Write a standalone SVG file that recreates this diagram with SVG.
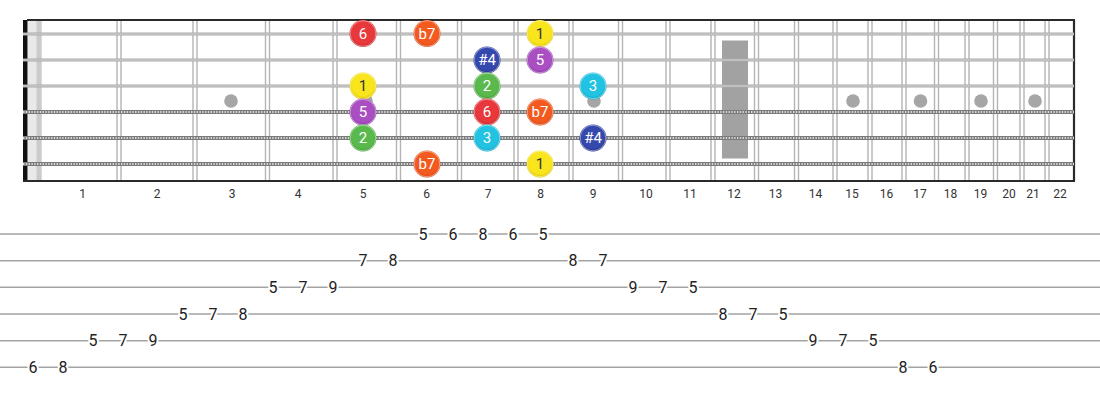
<svg xmlns="http://www.w3.org/2000/svg" width="1100" height="400" viewBox="0 0 1100 400">
<defs>
<style>
.fret{stroke:#b4b4b4;stroke-width:1.4;fill:none}
.plain{stroke:#a9a9a9;stroke-width:3}
.plainhi{stroke:#d6d6d6;stroke-width:1}
.wound{stroke:#7a7a7a;stroke-width:4}
.woundhi{stroke:#d8d8d8;stroke-width:2;stroke-dasharray:1.4 1.4}
.inlay{fill:#a6a6a6}
.fn{font-family:Roboto,"Liberation Sans",sans-serif;font-size:12px;fill:#333;text-anchor:middle}
.tabl{stroke:#a3a3a3;stroke-width:1.5}
.tn{font-family:Roboto,"Liberation Sans",sans-serif;font-size:16px;fill:#222;text-anchor:middle;stroke:#fff;stroke-width:4;paint-order:stroke;stroke-linejoin:round}
.nl{font-family:Roboto,"Liberation Sans",sans-serif;font-size:15px;fill:#fff;text-anchor:middle}
.dk{fill:#333}
.ring{fill:none;stroke:#fff;stroke-opacity:0.45;stroke-width:1}
</style>
<radialGradient id="gRed" cx="50%" cy="45%" r="55%"><stop offset="0.75" stop-color="#e8383b"/><stop offset="1" stop-color="#c62828"/></radialGradient>
<radialGradient id="gOra" cx="50%" cy="45%" r="55%"><stop offset="0.75" stop-color="#f25a1f"/><stop offset="1" stop-color="#d84315"/></radialGradient>
<radialGradient id="gYel" cx="50%" cy="45%" r="55%"><stop offset="0.75" stop-color="#f8e51c"/><stop offset="1" stop-color="#e0c400"/></radialGradient>
<radialGradient id="gBlu" cx="50%" cy="45%" r="55%"><stop offset="0.75" stop-color="#3548ad"/><stop offset="1" stop-color="#22338a"/></radialGradient>
<radialGradient id="gPur" cx="50%" cy="45%" r="55%"><stop offset="0.75" stop-color="#a94fc2"/><stop offset="1" stop-color="#8a35a6"/></radialGradient>
<radialGradient id="gGrn" cx="50%" cy="45%" r="55%"><stop offset="0.75" stop-color="#5ab94d"/><stop offset="1" stop-color="#3f9a34"/></radialGradient>
<radialGradient id="gCya" cx="50%" cy="45%" r="55%"><stop offset="0.75" stop-color="#22c3e2"/><stop offset="1" stop-color="#0fa3c4"/></radialGradient>
</defs>
<rect width="1100" height="400" fill="#fff"/>

<g id="fretboard">
<rect x="28" y="20" width="14" height="161" fill="#e9e9e9"/>
<rect x="36.5" y="20" width="5" height="161" fill="#cbcbcb"/>
<rect x="722" y="40.5" width="26" height="118" fill="#a2a2a2"/>
<g id="inlays">
<circle class="inlay" cx="231" cy="101" r="6.8"/>
<circle class="inlay" cx="366" cy="101" r="6.8"/>
<circle class="inlay" cx="594" cy="101" r="6.8"/>
<circle class="inlay" cx="853" cy="101" r="6.8"/>
<circle class="inlay" cx="920.5" cy="101" r="6.8"/>
<circle class="inlay" cx="981" cy="101" r="6.8"/>
<circle class="inlay" cx="1035" cy="101" r="6.8"/>
</g>
<g id="frets">
<path class="fret" d="M117,20V181M121,20V181M193,20V181M197,20V181M265.5,20V181M269.5,20V181M333,20V181M337,20V181M396.5,20V181M400.5,20V181M457.5,20V181M461.5,20V181M514,20V181M518,20V181M569,20V181M573,20V181M618.5,20V181M622.5,20V181M666,20V181M670,20V181M711,20V181M715,20V181M754.5,20V181M758.5,20V181M794.5,20V181M798.5,20V181M833,20V181M837,20V181M868,20V181M872,20V181M902,20V181M906,20V181M934.5,20V181M938.5,20V181M965,20V181M969,20V181M993.5,20V181M997.5,20V181M1020,20V181M1024,20V181M1045,20V181M1049,20V181"/>
</g>
<rect x="23" y="20" width="4.5" height="161" fill="#111"/>
<path d="M27,20H1075M23,181H1075" stroke="#2a2a2a" stroke-width="2"/>
<path d="M1074,20V181" stroke="#2a2a2a" stroke-width="2.2"/>
<g id="strings">
<path class="plain" d="M23,34H1074M23,60H1074M23,86H1074"/>
<path class="plainhi" d="M23,34H1074M23,60H1074M23,86H1074"/>
<path class="wound" d="M23,112H1074M23,138H1074M23,164H1074"/>
<path class="woundhi" d="M23,112H1074M23,138H1074M23,164H1074"/>
</g>
</g>

<g id="fret-numbers">
<text class="fn" x="82.5" y="198">1</text>
<text class="fn" x="157" y="198">2</text>
<text class="fn" x="232" y="198">3</text>
<text class="fn" x="298" y="198">4</text>
<text class="fn" x="363" y="198">5</text>
<text class="fn" x="426.5" y="198">6</text>
<text class="fn" x="488" y="198">7</text>
<text class="fn" x="540.5" y="198">8</text>
<text class="fn" x="593" y="198">9</text>
<text class="fn" x="646" y="198">10</text>
<text class="fn" x="690" y="198">11</text>
<text class="fn" x="734" y="198">12</text>
<text class="fn" x="775.5" y="198">13</text>
<text class="fn" x="815.5" y="198">14</text>
<text class="fn" x="852" y="198">15</text>
<text class="fn" x="886.5" y="198">16</text>
<text class="fn" x="920" y="198">17</text>
<text class="fn" x="950.5" y="198">18</text>
<text class="fn" x="980.5" y="198">19</text>
<text class="fn" x="1009" y="198">20</text>
<text class="fn" x="1033" y="198">21</text>
<text class="fn" x="1060" y="198">22</text>
</g>

<g id="notes">
<g id="n-s1-f5"><circle cx="363" cy="33.5" r="13.5" fill="url(#gRed)"/><circle class="ring" cx="363" cy="33.5" r="12.8"/><text class="nl" x="363" y="38.8">6</text></g>
<g id="n-s1-f6"><circle cx="427" cy="33.5" r="13.5" fill="url(#gOra)"/><circle class="ring" cx="427" cy="33.5" r="12.8"/><text class="nl" x="427" y="38.8">b7</text></g>
<g id="n-s1-f8"><circle cx="540" cy="33.5" r="13.5" fill="url(#gYel)"/><circle class="ring" cx="540" cy="33.5" r="12.8"/><text class="nl dk" x="540" y="38.8">1</text></g>
<g id="n-s2-f7"><circle cx="487" cy="60" r="13.5" fill="url(#gBlu)"/><circle class="ring" cx="487" cy="60" r="12.8"/><text class="nl" x="487" y="65.3">#4</text></g>
<g id="n-s2-f8"><circle cx="540" cy="60" r="13.5" fill="url(#gPur)"/><circle class="ring" cx="540" cy="60" r="12.8"/><text class="nl" x="540" y="65.3">5</text></g>
<g id="n-s3-f5"><circle cx="363" cy="86" r="13.5" fill="url(#gYel)"/><circle class="ring" cx="363" cy="86" r="12.8"/><text class="nl dk" x="363" y="91.3">1</text></g>
<g id="n-s3-f7"><circle cx="487" cy="86" r="13.5" fill="url(#gGrn)"/><circle class="ring" cx="487" cy="86" r="12.8"/><text class="nl" x="487" y="91.3">2</text></g>
<g id="n-s3-f9"><circle cx="593" cy="86" r="13.5" fill="url(#gCya)"/><circle class="ring" cx="593" cy="86" r="12.8"/><text class="nl" x="593" y="91.3">3</text></g>
<g id="n-s4-f5"><circle cx="363" cy="112" r="13.5" fill="url(#gPur)"/><circle class="ring" cx="363" cy="112" r="12.8"/><text class="nl" x="363" y="117.3">5</text></g>
<g id="n-s4-f7"><circle cx="487" cy="112" r="13.5" fill="url(#gRed)"/><circle class="ring" cx="487" cy="112" r="12.8"/><text class="nl" x="487" y="117.3">6</text></g>
<g id="n-s4-f8"><circle cx="540" cy="112" r="13.5" fill="url(#gOra)"/><circle class="ring" cx="540" cy="112" r="12.8"/><text class="nl" x="540" y="117.3">b7</text></g>
<g id="n-s5-f5"><circle cx="363" cy="138" r="13.5" fill="url(#gGrn)"/><circle class="ring" cx="363" cy="138" r="12.8"/><text class="nl" x="363" y="143.3">2</text></g>
<g id="n-s5-f7"><circle cx="487" cy="138" r="13.5" fill="url(#gCya)"/><circle class="ring" cx="487" cy="138" r="12.8"/><text class="nl" x="487" y="143.3">3</text></g>
<g id="n-s5-f9"><circle cx="593" cy="138" r="13.5" fill="url(#gBlu)"/><circle class="ring" cx="593" cy="138" r="12.8"/><text class="nl" x="593" y="143.3">#4</text></g>
<g id="n-s6-f6"><circle cx="427" cy="164" r="13.5" fill="url(#gOra)"/><circle class="ring" cx="427" cy="164" r="12.8"/><text class="nl" x="427" y="169.3">b7</text></g>
<g id="n-s6-f8"><circle cx="540" cy="164" r="13.5" fill="url(#gYel)"/><circle class="ring" cx="540" cy="164" r="12.8"/><text class="nl dk" x="540" y="169.3">1</text></g>
</g>

<g id="tab-lines">
<path class="tabl" d="M0,234H1100M0,260.7H1100M0,287.3H1100M0,314H1100M0,340.7H1100M0,367.3H1100"/>
</g>

<g id="tab-numbers">
<text class="tn" x="33" y="373">6</text>
<text class="tn" x="63" y="373">8</text>
<text class="tn" x="93" y="346.4">5</text>
<text class="tn" x="123" y="346.4">7</text>
<text class="tn" x="153" y="346.4">9</text>
<text class="tn" x="183" y="319.7">5</text>
<text class="tn" x="213" y="319.7">7</text>
<text class="tn" x="243" y="319.7">8</text>
<text class="tn" x="273" y="293">5</text>
<text class="tn" x="303" y="293">7</text>
<text class="tn" x="333" y="293">9</text>
<text class="tn" x="363" y="266.4">7</text>
<text class="tn" x="393" y="266.4">8</text>
<text class="tn" x="423" y="239.7">5</text>
<text class="tn" x="453" y="239.7">6</text>
<text class="tn" x="483" y="239.7">8</text>
<text class="tn" x="513" y="239.7">6</text>
<text class="tn" x="543" y="239.7">5</text>
<text class="tn" x="573" y="266.4">8</text>
<text class="tn" x="603" y="266.4">7</text>
<text class="tn" x="633" y="293">9</text>
<text class="tn" x="663" y="293">7</text>
<text class="tn" x="693" y="293">5</text>
<text class="tn" x="723" y="319.7">8</text>
<text class="tn" x="753" y="319.7">7</text>
<text class="tn" x="783" y="319.7">5</text>
<text class="tn" x="813" y="346.4">9</text>
<text class="tn" x="843" y="346.4">7</text>
<text class="tn" x="873" y="346.4">5</text>
<text class="tn" x="903" y="373">8</text>
<text class="tn" x="933" y="373">6</text>
</g>
</svg>
